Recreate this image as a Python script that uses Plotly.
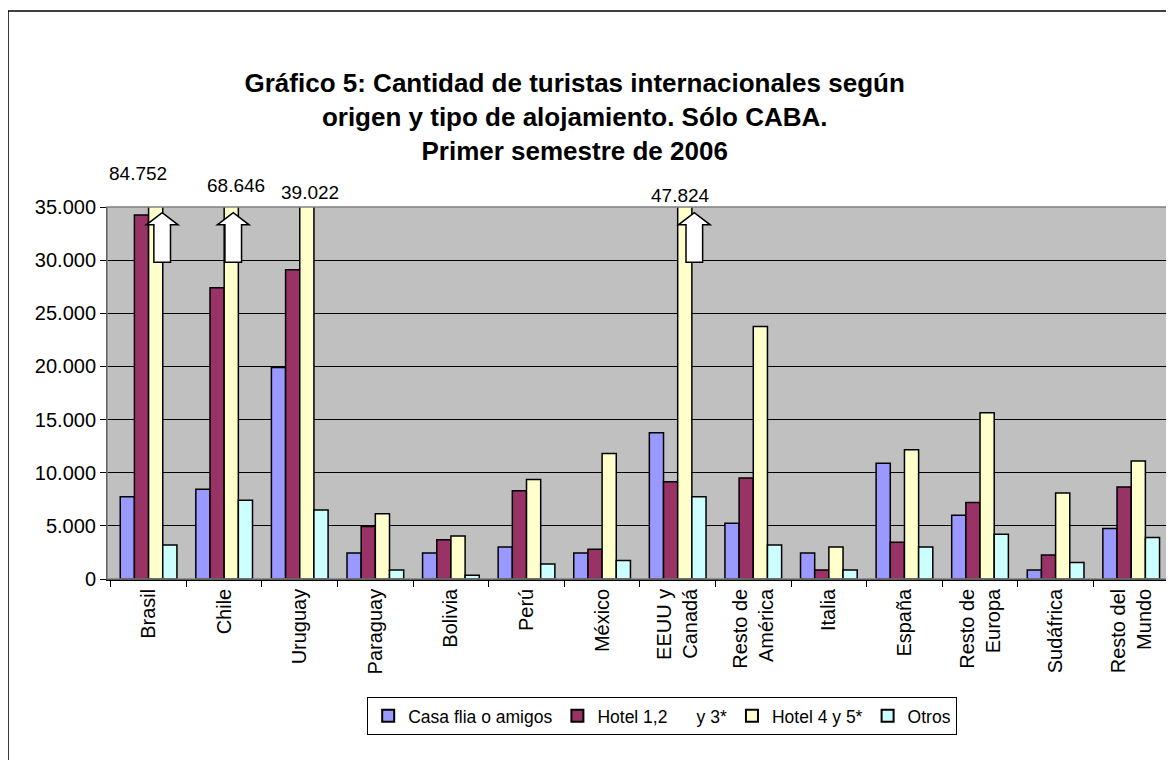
import plotly.graph_objects as go

# data
paises = ["Brasil", "Chile", "Uruguay", "Paraguay", "Bolivia", "Perú", "México",
          "EEUU y<br>Canadá", "Resto de<br>América", "Italia", "España",
          "Resto de<br>Europa", "Sudáfrica", "Resto del<br>Mundo"]
casa_flia = [7750, 8450, 19900, 2450, 2450, 3000, 2450, 13750, 5250, 2450, 10900, 6000, 850, 4750]
hotel_123 = [34250, 27400, 29100, 4950, 3700, 8300, 2800, 9150, 9500, 850, 3450, 7200, 2250, 8650]
hotel_45 = [84752, 68646, 39022, 6150, 4050, 9350, 11800, 47824, 23750, 3000, 12150, 15650, 8100, 11100]
otros = [3200, 7400, 6500, 850, 350, 1400, 1750, 7750, 3200, 850, 3000, 4200, 1550, 3900]

series_names = ["Casa flia o amigos", "Hotel 1,2      y 3*", "Hotel 4 y 5*", "Otros"]
series_colors = ["#9999FF", "#993366", "#FFFFCC", "#CCFFFF"]

y_max = 35000

# categories whose "Hotel 4 y 5*" bar is off the scale
desbordes = [0, 1, 2, 7]
label_dx = [-0.14, 0.16, 0.14, 0.04]
label_y = [1.091, 1.059, 1.038, 1.032]   # paper units, above the plot
flechas = [0, 1, 7]
flecha_dx = [0.18, 0.12, 0.22]

fig = go.Figure()
for name, vals, col in zip(series_names, [casa_flia, hotel_123, hotel_45, otros], series_colors):
    fig.add_trace(go.Bar(
        x=paises, y=vals, name=name,
        marker=dict(color=col, line=dict(color="black", width=1.5)),
    ))

def fmt(v):
    return f"{v:,}".replace(",", ".")

for i, dx, yy in zip(desbordes, label_dx, label_y):
    fig.add_annotation(x=i + dx, y=yy, xref="x", yref="paper", yanchor="middle",
                       text=fmt(hotel_45[i]), showarrow=False,
                       font=dict(size=19, color="black"))

# white block arrows over the clipped bars
for i, dx in zip(flechas, flecha_dx):
    cx = i + dx
    hw, sw = 0.21, 0.11
    yt, yh, yb = 34460, 33320, 29800
    path = (f"M {cx - sw},{yb} L {cx - sw},{yh} L {cx - hw},{yh} L {cx},{yt} "
            f"L {cx + hw},{yh} L {cx + sw},{yh} L {cx + sw},{yb} Z")
    fig.add_shape(type="path", path=path, xref="x", yref="y",
                  fillcolor="white", line=dict(color="black", width=1.5))

# plot area border and outer chart border
fig.add_shape(type="rect", xref="paper", yref="paper", x0=0, x1=1, y0=0, y1=1,
              line=dict(color="#808080", width=1.5), layer="above")
fig.add_shape(type="rect", xref="paper", yref="paper", x0=-0.0932, x1=1.0028,
              y0=-0.5, y1=1.527, line=dict(color="black", width=1.5))

# page body has an 8px margin, so the figure is a bit smaller than the window
fig.update_layout(
    width=1166, height=752,
    margin=dict(l=99, r=5, t=199, b=181),
    separators=",.",
    paper_bgcolor="white",
    plot_bgcolor="#C0C0C0",
    font=dict(family="Liberation Sans, Arial, sans-serif", color="black"),
    title=dict(
        text="<b>Gráfico 5: Cantidad de turistas internacionales según<br>"
             "origen y tipo de alojamiento. Sólo CABA.<br>"
             "Primer semestre de 2006</b>",
        x=0.486, xanchor="center", y=1 - 84 / 752, yanchor="top",
        font=dict(size=26, color="black"),
    ),
    barmode="group", bargap=0.25, bargroupgap=0,
    legend=dict(
        orientation="h", x=0.245, xanchor="left", y=-0.317, yanchor="top",
        bordercolor="black", borderwidth=1, bgcolor="white",
        font=dict(size=17.5), itemsizing="constant",
        itemwidth=30,
    ),
    showlegend=True,
)
fig.update_xaxes(
    type="category", tickangle=-90, tickfont=dict(size=20),
    ticks="outside", ticklen=6, tickson="boundaries", tickcolor="black",
    showline=True, linecolor="black", linewidth=1.5, showgrid=False,
)
fig.update_yaxes(
    range=[0, y_max], dtick=5000, tickformat=",.0f", tickfont=dict(size=20),
    ticks="outside", ticklen=6, tickcolor="black",
    showline=True, linecolor="black", linewidth=1,
    showgrid=True, gridcolor="black", gridwidth=1, zeroline=False,
)

fig.write_html("out.html")
